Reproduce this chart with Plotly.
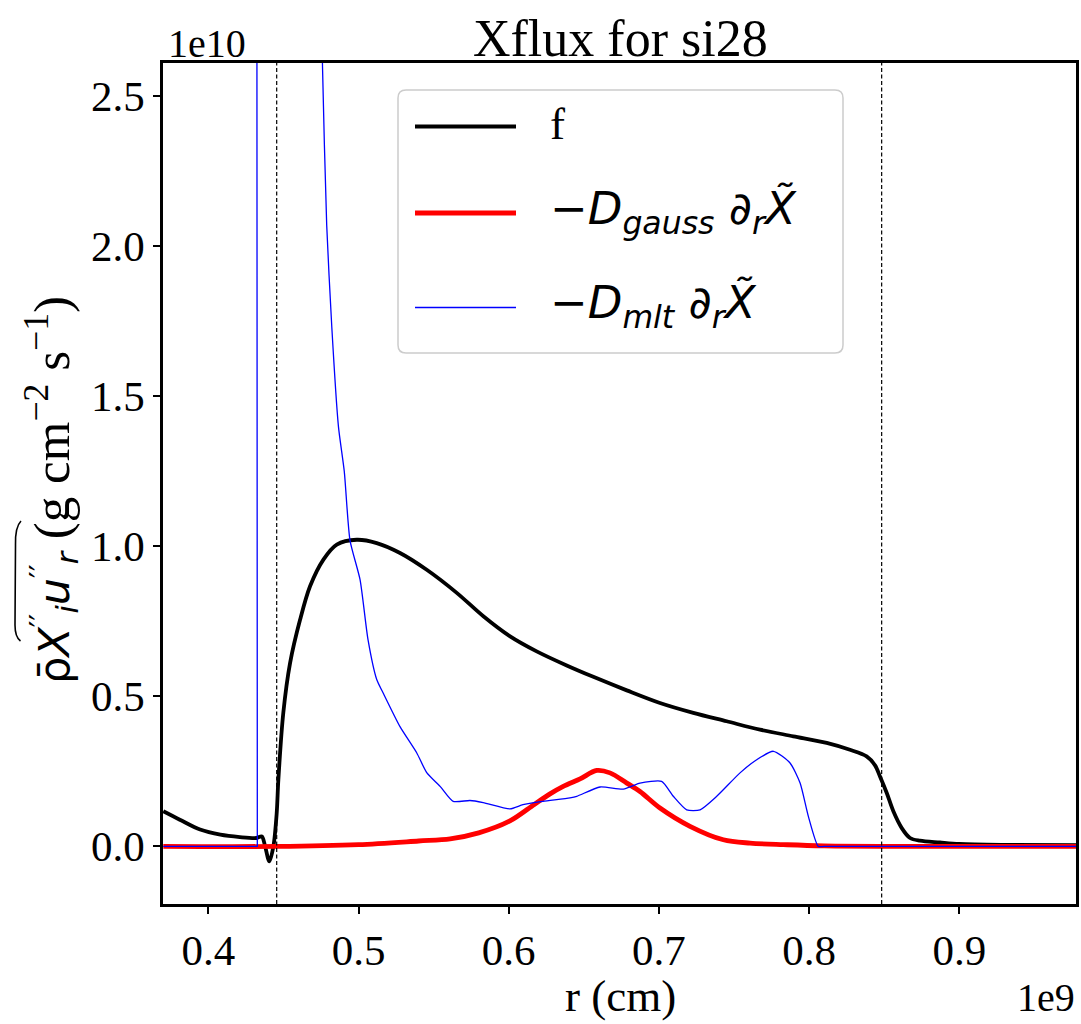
import plotly.graph_objects as go

# radius in units of 1e9 cm, fluxes in units of 1e10 g cm^-2 s^-1
r_f = [0.370, 0.381, 0.3945, 0.408, 0.421, 0.432, 0.4356, 0.4378, 0.4406, 0.4433,
       0.4455, 0.4466, 0.4499, 0.4544, 0.4611, 0.4677, 0.4766, 0.4855, 0.4988, 0.5121,
       0.5276, 0.5454, 0.5654, 0.5831, 0.6009, 0.6186, 0.6386, 0.6563, 0.6786, 0.7007,
       0.7229, 0.7451, 0.7673, 0.7895, 0.8117, 0.8272, 0.8383, 0.8439, 0.8472, 0.8517,
       0.8561, 0.8617, 0.8672, 0.8738, 0.8871, 0.900, 0.930, 0.978]
f_flux = [0.117, 0.089, 0.056, 0.039, 0.031, 0.028, 0.033, 0.000, -0.050, 0.000,
          0.110, 0.222, 0.445, 0.611, 0.756, 0.867, 0.956, 1.006, 1.022, 1.011,
          0.978, 0.922, 0.845, 0.767, 0.700, 0.650, 0.603, 0.565, 0.520, 0.478,
          0.445, 0.417, 0.389, 0.367, 0.345, 0.322, 0.300, 0.270, 0.233, 0.178,
          0.117, 0.061, 0.028, 0.019, 0.013, 0.008, 0.005, 0.004]

r_gauss = [0.370, 0.4455, 0.500, 0.540, 0.561, 0.580, 0.6008, 0.617, 0.6275, 0.6363,
           0.6475, 0.6586, 0.6674, 0.6786, 0.6874, 0.7007, 0.7207, 0.7429, 0.7607,
           0.7828, 0.810, 0.978]
d_gauss = [0.000, 0.000, 0.006, 0.018, 0.025, 0.045, 0.085, 0.140, 0.175, 0.200,
           0.225, 0.253, 0.245, 0.211, 0.183, 0.128, 0.067, 0.022, 0.011,
           0.006, 0.002, 0.000]

r_mlt = [0.370, 0.4324, 0.4326, 0.4327, 0.450, 0.465, 0.472, 0.4745, 0.476, 0.4788,
         0.4822, 0.4866, 0.4905, 0.4943, 0.501, 0.5063, 0.5121, 0.5163, 0.5276, 0.5387,
         0.5454, 0.5543, 0.563, 0.5742, 0.583, 0.6008, 0.6095, 0.6228, 0.6408, 0.6453,
         0.6608, 0.6763, 0.6874, 0.7018, 0.7096, 0.7185, 0.7274, 0.7385, 0.754, 0.7651,
         0.7762, 0.7873, 0.794, 0.7995, 0.8061, 0.8100, 0.978]
d_mlt = [0.000, 0.000, 0.000, 60.0, 25.0, 8.0, 4.0, 3.1, 2.6, 2.07,
         1.73, 1.40, 1.25, 1.02, 0.889, 0.689, 0.556, 0.512, 0.399, 0.312,
         0.246, 0.200, 0.150, 0.153, 0.146, 0.125, 0.139, 0.150, 0.162, 0.167,
         0.198, 0.191, 0.211, 0.217, 0.167, 0.122, 0.122, 0.167, 0.245, 0.289,
         0.317, 0.278, 0.211, 0.100, 0.000, 0.000, 0.000]

# convective boundaries
boundaries = [0.4455, 0.8483]

x_ticks = [0.4, 0.5, 0.6, 0.7, 0.8, 0.9]
y_ticks = [0.0, 0.5, 1.0, 1.5, 2.0, 2.5]

legend_labels = [
    "f",
    "\u2212<i>D</i><sub><i>gauss</i></sub> \u2202<sub><i>r</i></sub><i>X\u0303</i>",
    "\u2212<i>D</i><sub><i>mlt</i></sub> \u2202<sub><i>r</i></sub><i>X\u0303</i>",
]

W, H = 1081, 1024
ML, MR, MT, MB = 163, 5, 63, 120
PW, PH = W - ML - MR, H - MT - MB


def px(x):
    return (x - ML) / PW


def py(y):
    return (H - MB - y) / PH


SERIF = "Liberation Serif, Times New Roman, serif"
SANS = "DejaVu Sans, sans-serif"

fig = go.Figure()
fig.add_trace(go.Scatter(x=r_f, y=f_flux, mode="lines",
                         line=dict(color="#000000", width=3.8, shape="spline", smoothing=0.9),
                         showlegend=False))
fig.add_trace(go.Scatter(x=r_gauss, y=d_gauss, mode="lines",
                         line=dict(color="#ff0000", width=4.8, shape="spline", smoothing=0.9),
                         showlegend=False))
fig.add_trace(go.Scatter(x=r_mlt, y=d_mlt, mode="lines",
                         line=dict(color="#0000ff", width=1.3, shape="spline", smoothing=0.6),
                         showlegend=False))

shapes = []
for b in boundaries:
    shapes.append(dict(type="line", xref="x", yref="paper", x0=b, x1=b, y0=0, y1=1,
                       line=dict(color="#000000", width=1.2, dash="4px,2.5px")))

# legend frame with rounded corners
lx0, lx1, ly0, ly1, rad = 398, 843, 90, 353, 8
rx, ry = rad / PW, rad / PH
X0, X1, Y0, Y1 = px(lx0), px(lx1), py(ly1), py(ly0)
frame = (f"M{X0 + rx},{Y0} L{X1 - rx},{Y0} Q{X1},{Y0} {X1},{Y0 + ry} "
         f"L{X1},{Y1 - ry} Q{X1},{Y1} {X1 - rx},{Y1} L{X0 + rx},{Y1} "
         f"Q{X0},{Y1} {X0},{Y1 - ry} L{X0},{Y0 + ry} Q{X0},{Y0} {X0 + rx},{Y0} Z")
shapes.append(dict(type="path", xref="paper", yref="paper", path=frame,
                   fillcolor="rgba(255,255,255,0.85)",
                   line=dict(color="#cccccc", width=1.5)))

legend_styles = [("#000000", 4.0), ("#ff0000", 5.0), ("#0000ff", 1.5)]
legend_rows = [126.5, 213, 307.5]
annotations = []
for (col, w), yrow, lab in zip(legend_styles, legend_rows, legend_labels):
    shapes.append(dict(type="line", xref="paper", yref="paper",
                       x0=px(415), x1=px(516), y0=py(yrow), y1=py(yrow),
                       line=dict(color=col, width=w)))
    fam = SERIF if lab == "f" else SANS
    annotations.append(dict(xref="paper", yref="paper", x=px(548), y=py(yrow - 2),
                            xanchor="left", yanchor="middle", showarrow=False,
                            text=lab, font=dict(family=fam, size=45, color="#000000")))

# wide tilde over the flux symbol of the y label
tx = (f"M{px(21)},{py(521)} Q{px(15)},{py(527)} {px(15.5)},{py(545)} "
      f"L{px(15)},{py(625)} Q{px(15)},{py(637)} {px(20.5)},{py(641)}")
shapes.append(dict(type="path", xref="paper", yref="paper", path=tx,
                   line=dict(color="#000000", width=1.6)))

annotations += [
    dict(xref="paper", yref="paper", x=px(620), y=py(38), text="Xflux for si28",
         showarrow=False, xanchor="center", yanchor="middle",
         font=dict(family=SERIF, size=52, color="#000000")),
    dict(xref="paper", yref="paper", x=px(166), y=py(43), text="1e10",
         showarrow=False, xanchor="left", yanchor="middle",
         font=dict(family=SERIF, size=40, color="#000000")),
    dict(xref="paper", yref="paper", x=px(1077), y=py(997), text="1e9",
         showarrow=False, xanchor="right", yanchor="middle",
         font=dict(family=SERIF, size=40, color="#000000")),
    dict(xref="paper", yref="paper", x=px(620), y=py(996), text="r (cm)",
         showarrow=False, xanchor="center", yanchor="middle",
         font=dict(family=SERIF, size=45, color="#000000")),
    dict(xref="paper", yref="paper", x=px(50), y=py(490), textangle=-90,
         showarrow=False, xanchor="center", yanchor="middle",
         text=("<span style=\"font-family:DejaVu Sans;font-size:43px\">\u03c1\u0304<i>X</i>"
               "<sup>\u2032\u2032</sup><sub><i>i</i></sub><i>u</i><sup>\u2032\u2032</sup>"
               "<sub><i>r</i></sub></span>"
               " (g cm<sup>\u22122</sup> s<sup>\u22121</sup>)"),
         font=dict(family=SERIF, size=51, color="#000000")),
]

axis_common = dict(showgrid=False, zeroline=False, showline=True, linecolor="#000000",
                   linewidth=2.5, mirror=True, ticks="outside", ticklen=7,
                   tickwidth=1.8, tickcolor="#000000", tickformat=".1f",
                   tickfont=dict(family=SERIF, size=43, color="#000000"))

fig.update_layout(
    width=W, height=H,
    margin=dict(l=ML, r=MR, t=MT, b=MB, autoexpand=False),
    paper_bgcolor="#ffffff", plot_bgcolor="#ffffff",
    xaxis=dict(range=[0.3698, 0.9777], tickvals=x_ticks, **axis_common),
    yaxis=dict(range=[-0.192, 2.611], tickvals=y_ticks, **axis_common),
    shapes=shapes, annotations=annotations, showlegend=False,
)

fig.write_html("out.html")
